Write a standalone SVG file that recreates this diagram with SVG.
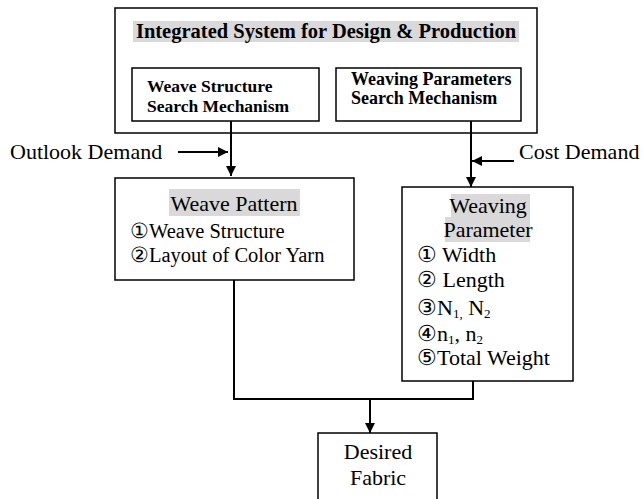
<svg xmlns="http://www.w3.org/2000/svg" width="643" height="499" viewBox="0 0 643 499">
<style>
.box{fill:none;stroke:#000;stroke-width:1.5}
.ln{fill:none;stroke:#000;stroke-width:2}
.hl{fill:#d9d9d9}
text{fill:#000}
.b{font-weight:bold;font-size:17.5px}
.b2{font-weight:bold;font-size:18px}
.t{font-weight:bold;font-size:20.5px}
.r{font-size:22px}
.m{font-size:20.5px}
.s{font-size:13px}
</style>
<defs>
<marker id="ah" viewBox="0 0 10 10" refX="10" refY="5" markerWidth="5" markerHeight="5" markerUnits="strokeWidth" orient="auto">
<path d="M0,0 L10,5 L0,10 z" fill="#000"/>
</marker>
</defs>
<rect width="643" height="499" fill="#fff"/>
<g font-family="'Liberation Serif', 'Times New Roman', Tinos, 'Noto Serif', 'DejaVu Serif', serif">
<g id="system">
<rect class="box" x="115" y="8" width="422" height="125"/>
<rect class="hl" x="133" y="21" width="386" height="21"/>
<text class="t" x="326" y="38" text-anchor="middle">Integrated System for Design &amp; Production</text>
</g>
<g id="weave-structure-search">
<rect class="box" x="132" y="68" width="187" height="53"/>
<text class="b" x="147" y="92">Weave Structure</text>
<text class="b" x="147" y="112">Search Mechanism</text>
</g>
<g id="weaving-parameters-search">
<rect class="box" x="336" y="68" width="185" height="53"/>
<text class="b2" x="351" y="85">Weaving Parameters</text>
<text class="b2" x="351" y="104">Search Mechanism</text>
</g>
<g id="outlook-demand">
<text class="r" x="10" y="159">Outlook Demand</text>
</g>
<g id="cost-demand">
<text class="r" x="519" y="159">Cost Demand</text>
</g>
<g id="weave-pattern">
<rect class="box" x="115" y="178" width="239" height="102"/>
<rect class="hl" x="169" y="189" width="131" height="27"/>
<text class="r" x="234" y="211" text-anchor="middle">Weave Pattern</text>
<text class="m" x="130" y="238">①Weave Structure</text>
<text class="m" x="130" y="262">②Layout of Color Yarn</text>
</g>
<g id="weaving-parameter">
<rect class="box" x="402" y="187" width="171" height="194"/>
<rect class="hl" x="451" y="194" width="79" height="23"/>
<rect class="hl" x="445" y="217" width="85" height="25"/>
<text class="r" x="488" y="213" text-anchor="middle">Weaving</text>
<text class="r" x="488" y="237" text-anchor="middle">Parameter</text>
<text class="r" x="417" y="262">① Width</text>
<text class="r" x="417" y="287">② Length</text>
<text class="r" x="417" y="315">③N<tspan class="s" baseline-shift="-3">1,</tspan> N<tspan class="s" baseline-shift="-3">2</tspan></text>
<text class="r" x="417" y="341">④n<tspan class="s" baseline-shift="-3">1</tspan>, n<tspan class="s" baseline-shift="-3">2</tspan></text>
<text class="r" x="417" y="365">⑤Total Weight</text>
</g>
<g id="desired-fabric">
<rect class="box" x="318" y="433" width="119" height="80"/>
<text class="r" x="378" y="459" text-anchor="middle">Desired</text>
<text class="r" x="378" y="485" text-anchor="middle">Fabric</text>
</g>
</g>
<g id="connectors">
<line class="ln" x1="231" y1="121" x2="231" y2="176" marker-end="url(#ah)"/>
<line class="ln" x1="178" y1="152" x2="228" y2="152" marker-end="url(#ah)"/>
<line class="ln" x1="471" y1="121" x2="471" y2="187" marker-end="url(#ah)"/>
<line class="ln" x1="514" y1="161" x2="472" y2="161" marker-end="url(#ah)"/>
<polyline class="ln" points="234,280 234,399 473,399 473,381"/>
<line class="ln" x1="370" y1="399" x2="370" y2="433" marker-end="url(#ah)"/>
</g>
</svg>
